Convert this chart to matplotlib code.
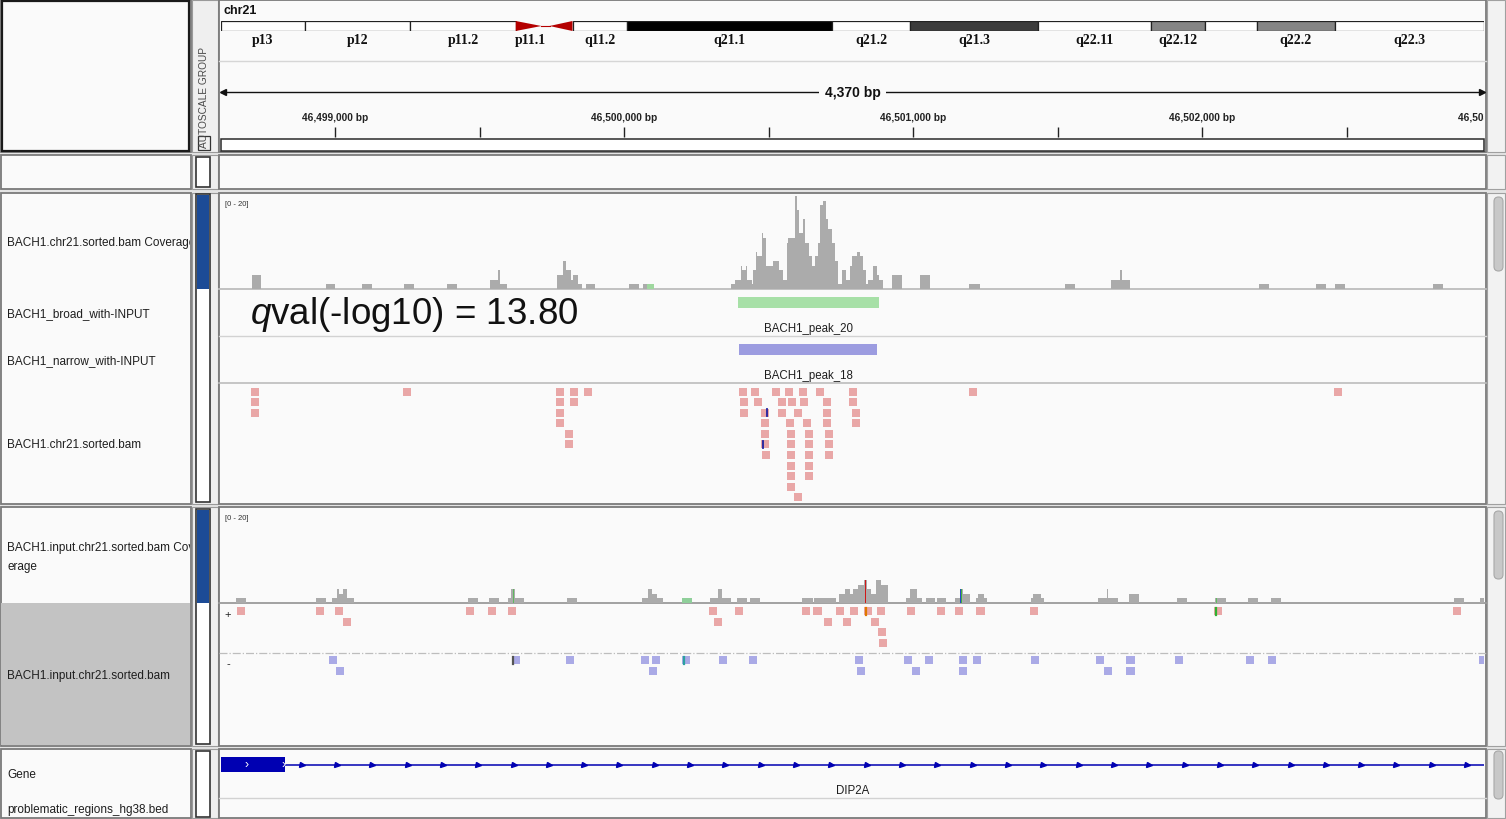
import numpy as np
import matplotlib.pyplot as plt
from matplotlib.patches import Rectangle, Polygon, FancyBboxPatch

plt.rcParams['font.family'] = ['Liberation Sans', 'DejaVu Sans']
plt.rcParams['mathtext.fontset'] = 'custom'
plt.rcParams['mathtext.rm'] = 'Liberation Sans'
plt.rcParams['mathtext.it'] = 'Liberation Sans:italic'

# ---- locus -------------------------------------------------------------
chrom = 'chr21'
chrom_len = 46.709983  # Mb
region_start = 46498605
region_end = 46502975

# ---- cytobands (hg38, Mb) ----------------------------------------------
band_names = ['p13', 'p12', 'p11.2', 'p11.1', 'q11.1', 'q11.2', 'q21.1', 'q21.2',
              'q21.3', 'q22.11', 'q22.12', 'q22.13', 'q22.2', 'q22.3']
band_start = [0.0, 3.1, 7.0, 10.9, 12.0, 13.0, 15.0, 22.6, 25.5, 30.2, 34.4, 36.4, 38.3, 41.2]
band_end = [3.1, 7.0, 10.9, 12.0, 13.0, 15.0, 22.6, 25.5, 30.2, 34.4, 36.4, 38.3, 41.2, chrom_len]
band_stain = ['gvar', 'stalk', 'gvar', 'acen', 'acen', 'gneg', 'gpos100', 'gneg',
              'gpos75', 'gneg', 'gpos50', 'gneg', 'gpos50', 'gneg']
unlabelled_bands = ['q11.1', 'q22.13']

# ---- BACH1 ChIP coverage (offset from region start, bp) -----------------
bach1_cov_start = [107, 362, 488, 633, 782, 932, 958, 965, 1163, 1185, 1194, 1211, 1218, 1235, 1263, 1410, 1460,
                   1764, 1778, 1798, 1803, 1817, 1821, 1836, 1842, 1850, 1853, 1871, 1876, 1885, 1911, 1932, 1946,
                   1957, 1963, 1986, 1992, 2001, 2013, 2021, 2036, 2044, 2055, 2067, 2073, 2084, 2093, 2101, 2113,
                   2124, 2136, 2147, 2162, 2176, 2185, 2199, 2211, 2222, 2232, 2240, 2255, 2269, 2278,
                   2321, 2419, 2589, 2920, 3080, 3109, 3116, 3591, 3789, 3854, 4192]
bach1_cov_end = [140, 394, 522, 668, 817, 958, 965, 990, 1185, 1194, 1211, 1218, 1235, 1249, 1294, 1448, 1498,
                 1778, 1798, 1803, 1817, 1821, 1836, 1842, 1850, 1853, 1871, 1876, 1885, 1911, 1932, 1946, 1957,
                 1963, 1986, 1992, 2001, 2013, 2021, 2036, 2044, 2055, 2067, 2073, 2084, 2093, 2101, 2113, 2124,
                 2136, 2147, 2162, 2176, 2185, 2199, 2211, 2222, 2232, 2240, 2255, 2269, 2278, 2292,
                 2356, 2454, 2627, 2956, 3109, 3116, 3144, 3626, 3823, 3889, 4228]
bach1_cov_depth = [3, 1, 1, 1, 1, 2, 4, 1, 3, 6, 4, 2, 3, 1, 1, 1, 1,
                   1, 2, 5, 4, 5, 2, 1, 4, 8, 7, 12, 11, 5, 6, 4, 2, 10, 11, 20, 17, 12, 15, 10, 7, 5, 7,
                   10, 18, 19, 15, 13, 10, 6, 1, 4, 2, 5, 7, 8, 7, 4, 1, 2, 5, 3, 2,
                   3, 3, 1, 1, 2, 4, 2, 1, 1, 1, 1]
bach1_mm_pos = [1474]
bach1_mm_len = [24]
bach1_mm_depth = [1]
bach1_mm_color = ['#9fd89f']

# ---- MACS2 peaks --------------------------------------------------------
broad_peak_name = 'BACH1_peak_20'
broad_peak = (1789, 2277)
broad_qval = 13.80
narrow_peak_name = 'BACH1_peak_18'
narrow_peak = (1792, 2270)

# ---- BACH1 reads, one list per packed row (read start offsets) ----------
read_len = 28
bach1_reads = [
    [104, 630, 1159, 1208, 1256, 1792, 1834, 1906, 1951, 2000, 2059, 2173, 2588, 3851],
    [104, 1159, 1208, 1796, 1844, 1927, 1962, 2003, 2083, 2173],
    [104, 1159, 1796, 1868, 1927, 1983, 2083, 2183],
    [1159, 1868, 1955, 2014, 2083, 2183],
    [1190, 1868, 1958, 2021, 2090],
    [1190, 1868, 1958, 2021, 2090],
    [1872, 1958, 2021, 2090],
    [1958, 2021],
    [1958, 2021],
    [1958],
    [1983],
]
bach1_read_mm_pos = [1889, 1875]
bach1_read_mm_row = [2, 5]

# ---- input coverage -----------------------------------------------------
input_cov_start = [51, 329, 383, 401, 410, 421, 437, 854, 927, 993, 1003, 1017, 1198, 1457, 1477, 1491, 1509,
                   1595, 1691, 1719, 1733, 1784, 1830, 2010, 2052, 2140, 2159, 2175, 2187, 2203, 2226, 2234,
                   2249, 2268, 2284, 2370, 2384, 2408, 2439, 2479, 2541, 2557, 2567, 2611, 2619, 2640, 2801,
                   2810, 2837, 3034, 3066, 3069, 3141, 3308, 3440, 3553, 3632, 4266, 4356]
input_cov_end = [86, 363, 401, 410, 421, 437, 460, 889, 962, 1003, 1017, 1047, 1232, 1477, 1491, 1509, 1529,
                 1630, 1719, 1733, 1765, 1819, 1865, 2048, 2128, 2159, 2175, 2187, 2203, 2226, 2234, 2249,
                 2268, 2284, 2307, 2384, 2408, 2424, 2470, 2510, 2557, 2567, 2593, 2619, 2640, 2650, 2810,
                 2837, 2848, 3066, 3069, 3102, 3177, 3341, 3476, 3588, 3668, 4302, 4370]
input_cov_depth = [1, 1, 1, 3, 2, 3, 1, 1, 1, 1, 3, 1, 1, 1, 3, 2, 1, 1, 1, 3,
                   1, 1, 1, 1, 1, 2, 3, 2, 3, 4, 5, 3, 2, 5, 4, 1, 3, 1, 1, 1,
                   1, 3, 2, 1, 2, 1, 1, 2, 1, 1, 3, 1, 2, 1, 1, 1, 1, 1, 1]
input_mm_pos = [1010, 1595, 2228, 2557, 2561, 3441]
input_mm_len = [5, 35, 5, 4, 4, 6]
input_mm_depth = [3, 1, 5, 3, 3, 1]
input_mm_color = ['#5fb85f', '#8fcf9a', '#d01818', '#2848c8', '#40b040', '#5fc05f']

# ---- input reads by strand ----------------------------------------------
input_plus_reads = [
    [55, 329, 394, 848, 924, 993, 1688, 1778, 2010, 2050, 2127, 2175, 2226, 2270, 2374, 2476, 2541, 2614,
     2799, 3437, 4264],
    [422, 1706, 2085, 2151, 2249],
    [2272],
    [2275],
]
input_minus_reads = [
    [374, 1007, 1194, 1453, 1491, 1595, 1723, 1827, 2195, 2362, 2435, 2552, 2603, 2801, 3028, 3133, 3301,
     3547, 3624, 4353],
    [398, 1480, 2201, 2390, 2552, 3055, 3133],
]
input_read_mm = [('+', 0, 2232, '#e07800'), ('+', 0, 3443, '#30b030'),
                 ('-', 0, 1010, '#555555'), ('-', 0, 1602, '#2aa0a0')]

# ---- gene ---------------------------------------------------------------
gene_name = 'DIP2A'
gene_start = 46458891
gene_end = 46570015
exon_end = 46498826

# ---- track names --------------------------------------------------------
cov_max = 20
track_labels = [
    ('BACH1.chr21.sorted.bam Coverage', 243),
    ('BACH1_broad_with-INPUT', 314),
    ('BACH1_narrow_with-INPUT', 361),
    ('BACH1.chr21.sorted.bam', 445),
    ('BACH1.input.chr21.sorted.bam Cov', 548),
    ('erage', 567),
    ('BACH1.input.chr21.sorted.bam', 676),
    ('Gene', 775),
    ('problematic_regions_hg38.bed', 810),
]

W, H = 1506, 820
X0, X1 = 221, 1484
cov_grey = '#ababab'
read_pink = '#e9a7a7'
read_blue = '#aaaae6'
gene_blue = '#0000b2'

fig = plt.figure(figsize=(W / 100, H / 100), dpi=100, facecolor='#e4e4e4')
ui = fig.add_axes([0, 0, 1, 1])
ui.set_xlim(0, W)
ui.set_ylim(H, 0)
ui.axis('off')


def rect(x0, y0, x1, y1, fc='none', ec='none', lw=1.0, z=1):
    ui.add_patch(Rectangle((x0, y0), x1 - x0, y1 - y0, facecolor=fc, edgecolor=ec, linewidth=lw, zorder=z))


def px_axes(x0, y0, x1, y1):
    ax = fig.add_axes([x0 / W, 1 - y1 / H, (x1 - x0) / W, (y1 - y0) / H])
    ax.patch.set_alpha(0)
    ax.axis('off')
    return ax


def track_axes(y0, y1):
    ax = px_axes(X0, y0, X1, y1)
    ax.set_xlim(region_start, region_end)
    return ax


# panel frames
panels = [(1, 153), (156, 190), (194, 505), (508, 747), (750, 819)]
for y0, y1 in panels:
    rect(1, y0, 191, y1, fc='#fafafa', ec='#7a7a7a', lw=1.3)
    rect(192, y0, 218, y1, fc='#efefef', ec='#9a9a9a', lw=0.8)
    rect(219, y0, 1486, y1, fc='#fafafa', ec='#7a7a7a', lw=1.3)
    rect(1487, y0, 1505, y1, fc='#f2f2f2', ec='#a0a0a0', lw=0.8)

rect(2, 2, 189, 152, ec='#1a1a1a', lw=1.6, z=2)
ui.text(204, 97, 'AUTOSCALE GROUP', rotation=90, ha='center', va='center', fontsize=7.3, color='#4a4a4a')
rect(198, 137, 210, 151, ec='#333333', lw=0.9, z=2)
rect(196, 158, 210, 188, fc='white', ec='#333333', lw=1.2, z=2)
rect(196, 195, 210, 503, fc='white', ec='#333333', lw=1.2, z=2)
rect(197, 196, 209, 290, fc='#1c4b96', z=3)
rect(1, 604, 190, 746, fc='#c3c3c3', z=2)
rect(196, 510, 210, 745, fc='white', ec='#333333', lw=1.2, z=2)
rect(197, 511, 209, 604, fc='#1c4b96', z=3)
rect(196, 752, 210, 818, fc='white', ec='#333333', lw=1.2, z=2)

for ty0, ty1 in [(198, 272), (512, 580), (752, 800)]:
    ui.add_patch(FancyBboxPatch((1494, ty0), 9, ty1 - ty0, boxstyle='round,pad=0,rounding_size=4.5',
                                facecolor='#c8c8c8', edgecolor='#a8a8a8', linewidth=0.8, zorder=3))

# track separators
ui.plot([219, 1486], [62, 62], color='#d6d6d6', lw=1, zorder=2)
ui.plot([219, 1486], [290, 290], color='#bcbcbc', lw=1.3, zorder=2)
ui.plot([219, 1486], [337, 337], color='#d2d2d2', lw=1, zorder=2)
ui.plot([219, 1486], [384, 384], color='#bcbcbc', lw=1.2, zorder=2)
ui.plot([219, 1486], [604, 604], color='#9a9a9a', lw=1.3, zorder=2)
ui.plot([219, 1486], [654, 654], color='#bdbdbd', lw=0.9, ls='-.', zorder=2)
ui.plot([219, 1486], [799, 799], color='#d2d2d2', lw=1, zorder=2)

# track names, clipped to the name column
names = px_axes(1, 0, 190, H)
names.set_xlim(1, 190)
names.set_ylim(H, 0)
for label, y in track_labels:
    names.text(7, y, label, ha='left', va='center', fontsize=8.5, color='#1e1e1e', clip_on=True)

# ---- ideogram -----------------------------------------------------------
stain_colors = {'gneg': 'white', 'gvar': 'white', 'stalk': 'white',
                'gpos100': '#000000', 'gpos75': '#3c3c3c', 'gpos50': '#858585'}
ideo = px_axes(X0, 22, X1, 32)
ideo.set_xlim(0, chrom_len)
ideo.set_ylim(0, 1)
for name, s, e, st in zip(band_names, band_start, band_end, band_stain):
    if st == 'acen':
        if name.startswith('p'):
            tri = [(s, 1), (s, 0), (e - 0.15, 0.5)]
        else:
            tri = [(e, 1), (e, 0), (s + 0.15, 0.5)]
        ideo.add_patch(Polygon(tri, closed=True, facecolor='#b40000', edgecolor='none'))
    else:
        ideo.add_patch(Rectangle((s, 0), e - s, 1, facecolor=stain_colors[st], edgecolor='#222222', lw=0.9))
    if name not in unlabelled_bands:
        ideo.text((s + e) / 2, -0.85, name, ha='center', va='center', fontsize=10,
                  family='Liberation Serif', weight='bold', color='#111111', clip_on=False)
ideo.plot([11.85, 12.15], [0.5, 0.5], color='#b40000', lw=0.8)
ui.text(224, 11, chrom, ha='left', va='center', fontsize=9, weight='bold', color='#111111')

# ---- ruler --------------------------------------------------------------
ruler = track_axes(62, 152)
ruler.set_ylim(152, 62)
ruler.plot([region_start, region_end], [93, 93], color='#111111', lw=1)
ruler.plot([region_start + 8], [93], marker='<', ms=5, color='#111111', clip_on=False)
ruler.plot([region_end - 8], [93], marker='>', ms=5, color='#111111', clip_on=False)
ruler.text((region_start + region_end) / 2, 93, f'{region_end - region_start:,} bp', ha='center', va='center',
           fontsize=10, weight='bold', color='#111111',
           bbox=dict(facecolor='#fafafa', edgecolor='none', pad=4))
ticks = np.arange(np.ceil(region_start / 500) * 500, region_end + 1, 500)
ruler.vlines(ticks, 128, 138, color='#222222', lw=1)
for t in ticks[ticks % 1000 == 0]:
    ruler.text(t, 118, f'{int(t):,} bp', ha='center', va='center', fontsize=7.3, weight='bold',
               color='#222222', clip_on=True)
for t in [region_end + 1000 - region_end % 1000]:
    ruler.text(t, 118, f'{int(t):,} bp', ha='center', va='center', fontsize=7.3, weight='bold',
               color='#222222', clip_on=True)
rect(X0, 140, X1, 152, fc='white', ec='#2a2a2a', lw=1.1, z=2)


# ---- coverage tracks ----------------------------------------------------
def draw_coverage(ax, starts, ends, depth, mm_pos, mm_len, mm_depth, mm_color):
    ax.set_ylim(0, cov_max)
    s = region_start + np.array(starts)
    w = np.array(ends) - np.array(starts)
    ax.bar(s, depth, width=w, align='edge', color=cov_grey, linewidth=0)
    ax.bar(region_start + np.array(mm_pos), mm_depth, width=mm_len, align='edge', color=mm_color, linewidth=0)


cov1 = track_axes(197, 290)
draw_coverage(cov1, bach1_cov_start, bach1_cov_end, bach1_cov_depth,
              bach1_mm_pos, bach1_mm_len, bach1_mm_depth, bach1_mm_color)
ui.text(225, 204, f'[0 - {cov_max}]', ha='left', va='center', fontsize=5.5, color='#333333', zorder=4)

cov2 = track_axes(512, 604)
draw_coverage(cov2, input_cov_start, input_cov_end, input_cov_depth,
              input_mm_pos, input_mm_len, input_mm_depth, input_mm_color)
ui.text(225, 519, f'[0 - {cov_max}]', ha='left', va='center', fontsize=5.5, color='#333333', zorder=4)

# ---- peaks --------------------------------------------------------------
pk = track_axes(290, 384)
pk.set_ylim(384, 290)
pk.broken_barh([(region_start + broad_peak[0], broad_peak[1] - broad_peak[0])], (298, 11), facecolors='#a7e0a7')
pk.text(region_start + sum(broad_peak) / 2, 329, broad_peak_name, ha='center', va='center',
        fontsize=8.3, color='#1e1e1e')
pk.broken_barh([(region_start + narrow_peak[0], narrow_peak[1] - narrow_peak[0])], (345, 11), facecolors='#9c9ce0')
pk.text(region_start + sum(narrow_peak) / 2, 376, narrow_peak_name, ha='center', va='center',
        fontsize=8.3, color='#1e1e1e')
ui.text(250, 324, f'$q$val(-log10) = {broad_qval:.2f}', ha='left', va='baseline', fontsize=26.5,
        color='#111111', zorder=5)

# ---- alignments ---------------------------------------------------------
rd = track_axes(384, 505)
rd.set_ylim(505, 384)
for row, starts in enumerate(bach1_reads):
    y = 388.7 + 10.55 * row
    rd.broken_barh([(region_start + p, read_len) for p in starts], (y, 8), facecolors=read_pink)
for p, row in zip(bach1_read_mm_pos, bach1_read_mm_row):
    y = 388.7 + 10.55 * row
    rd.plot([region_start + p] * 2, [y + 0.5, y + 7.5], color='#2020a0', lw=1.3)

ird = track_axes(604, 747)
ird.set_ylim(747, 604)
row_top = {'+': 608.5, '-': 657.5}
for strand, rows, col in [('+', input_plus_reads, read_pink), ('-', input_minus_reads, read_blue)]:
    for row, starts in enumerate(rows):
        y = row_top[strand] + 10.5 * row
        ird.broken_barh([(region_start + p, read_len) for p in starts], (y, 8), facecolors=col)
for strand, row, p, col in input_read_mm:
    y = row_top[strand] + 10.5 * row
    ird.plot([region_start + p] * 2, [y + 0.5, y + 7.5], color=col, lw=1.6)
ui.text(228, 615, '+', ha='center', va='center', fontsize=8, color='#222222', zorder=4)
ui.text(228, 664, '-', ha='center', va='center', fontsize=8, color='#222222', zorder=4)

# ---- gene ---------------------------------------------------------------
gn = track_axes(750, 820)
gn.set_ylim(820, 750)
gn.plot([exon_end, gene_end], [766, 766], color=gene_blue, lw=1.1)
gn.broken_barh([(gene_start, exon_end - gene_start)], (758, 15), facecolors=gene_blue)
chev = np.arange(exon_end + 58, region_end, 122.2)
gn.plot(chev, np.full(chev.size, 766), ls='none', marker='>', ms=3.6, color=gene_blue)
for p in [region_start + 90, exon_end - 6]:
    gn.text(p, 765.5, '›', ha='center', va='center', fontsize=9, color='white')
gn.text((max(gene_start, region_start) + min(gene_end, region_end)) / 2, 791, gene_name,
        ha='center', va='center', fontsize=8.3, color='#1e1e1e')

fig.savefig('out.png', dpi=100, facecolor=fig.get_facecolor())
